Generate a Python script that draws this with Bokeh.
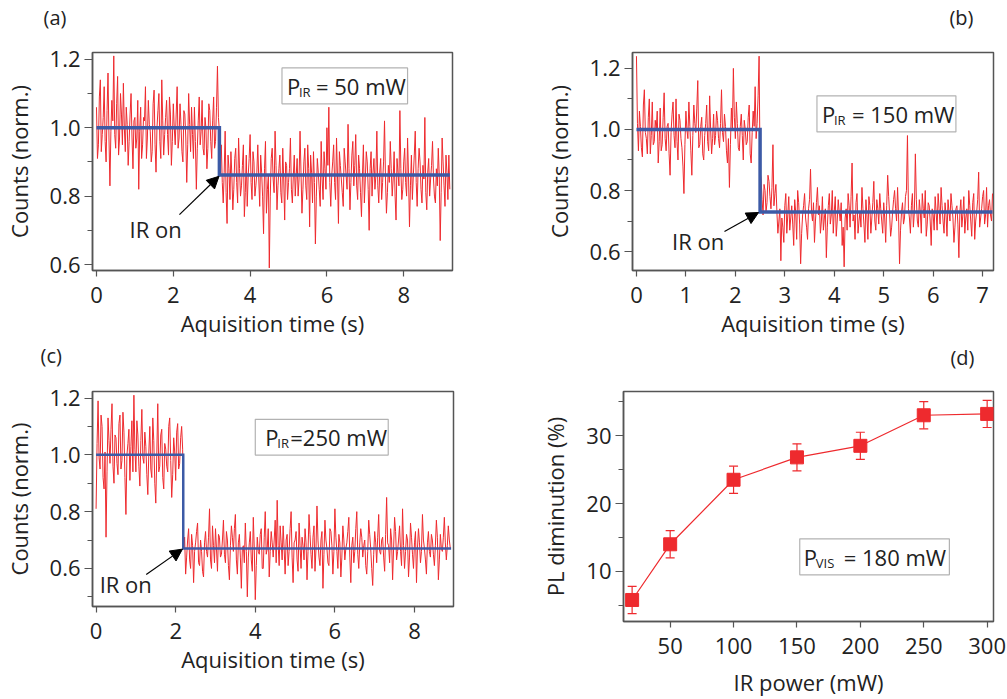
import numpy as np
from bokeh.plotting import figure
from bokeh.layouts import row, column
from bokeh.models import (Range1d, SingleIntervalTicker, BoxAnnotation, Label, Arrow,
                          NormalHead, Whisker, TeeHead, ColumnDataSource,
                          PrintfTickFormatter)
from bokeh.embed import file_html
from bokeh.resources import INLINE

FONT = "Open Sans"
FS = "22px"
RED = "#ee2a2e"
BLUE = "#3c5aa6"
TXT = "#222222"
FRAME = "#555555"

# ---------------- data ----------------
# (a) P_IR = 50 mW
a_dt = 0.025
a_counts = [
    1.06, 0.91, 0.95, 1.09, 1.14, 0.93, 0.98, 1.03, 1.12, 0.96, 0.90, 1.05, 1.16, 0.97, 0.83, 0.99, 1.08, 1.02, 1.21, 0.98,
    0.94, 1.07, 1.15, 0.92, 0.97, 1.10, 1.04, 0.95, 1.13, 1.00, 0.93, 1.06, 1.01, 0.89, 0.96, 1.04, 1.10, 0.97, 0.88, 1.02,
    1.03, 0.94, 0.97, 1.08, 0.82, 0.99, 1.06, 0.91, 0.95, 1.03, 1.02, 1.12, 0.91, 0.97, 1.08, 1.01, 0.99, 0.90, 0.93, 1.07,
    1.11, 0.95, 0.87, 1.00, 1.05, 1.10, 0.96, 0.91, 1.14, 1.02, 0.92, 0.98, 1.03, 1.08, 0.98, 0.92, 1.09, 1.04, 0.89, 0.96,
    1.07, 1.00, 0.95, 1.04, 1.12, 0.94, 0.97, 1.07, 1.01, 0.93, 0.90, 1.05, 1.04, 0.97, 0.84, 0.95, 1.10, 1.01, 0.93, 1.06,
    0.98, 0.91, 1.06, 0.96, 0.82, 0.94, 1.02, 1.09, 0.95, 0.99, 1.08, 0.94, 0.92, 1.03, 1.00, 0.88, 0.94, 1.07, 1.05, 0.96,
    0.91, 1.02, 1.09, 0.94, 0.96, 1.06, 1.18, 1.03, 0.99,
    0.90, 0.95, 0.84, 0.78, 0.87, 0.99, 0.81, 0.72, 0.92, 0.88, 0.79, 0.93, 0.86, 0.76, 0.82, 0.91, 0.94, 0.84, 0.78, 0.97,
    0.88, 0.80, 0.83, 0.89, 0.95, 0.74, 0.81, 0.92, 0.77, 0.86, 0.91, 0.98, 0.84, 0.79, 0.93, 0.90, 0.80, 0.83, 0.87, 0.95,
    0.85, 0.77, 0.92, 0.87, 0.80, 0.69, 0.88, 0.96, 0.75, 0.82, 0.86, 0.59, 0.80, 0.91, 0.94, 0.85, 0.81, 0.99, 0.89, 0.76,
    0.83, 0.88, 0.92, 0.81, 0.78, 0.94, 0.85, 0.73, 0.90, 0.89, 0.79, 0.84, 0.88, 0.97, 0.82, 0.78, 0.86, 0.92, 0.80, 0.86,
    0.91, 0.80, 0.85, 0.99, 0.87, 0.75, 0.82, 0.90, 0.94, 0.83, 0.79, 0.95, 0.88, 0.71, 0.92, 0.87, 0.78, 0.93, 0.84, 0.66,
    0.80, 0.91, 0.87, 0.82, 0.77, 0.96, 0.85, 0.79, 0.93, 0.88, 0.82, 1.00, 0.89, 1.06, 0.84, 0.77, 0.86, 0.90, 0.95, 0.84,
    0.79, 0.97, 0.86, 0.72, 0.93, 0.89, 0.85, 0.81, 0.77, 0.94, 0.90, 0.86, 0.82, 1.01, 0.88, 0.76, 0.84, 0.92, 0.96, 0.83,
    0.89, 0.98, 0.83, 0.79, 0.92, 0.88, 0.81, 0.74, 0.86, 0.95, 0.78, 0.85, 0.93, 0.90, 0.82, 0.70, 0.88, 0.93, 0.80, 0.87,
    0.91, 0.82, 0.86, 0.99, 0.83, 0.78, 0.87, 0.91, 0.79, 0.84, 0.90, 1.02, 0.85, 0.75, 0.81, 0.89, 0.84, 0.96, 0.88, 0.80,
    0.85, 0.93, 0.80, 0.73, 0.91, 0.87, 0.83, 1.05, 0.88, 0.79, 0.82, 0.90, 0.94, 0.84, 0.80, 0.97, 0.86, 0.71, 0.83, 0.92,
    0.79, 0.86, 0.92, 0.99, 0.84, 0.77, 0.88, 0.94, 0.90, 0.82, 0.78, 0.89, 0.85, 1.03, 0.81, 0.76, 0.87, 0.91, 0.80, 0.85,
    0.89, 0.96, 0.85, 0.80, 0.78, 0.88, 0.83, 0.94, 0.86, 0.67, 0.81, 0.97, 0.90, 0.83, 0.77, 0.92, 0.87, 0.79, 0.92, 0.82,
]
a_step_time = 3.2
a_levels = [1.0, 0.862]
a_end = 9.2

# (b) P_IR = 150 mW
b_dt = 0.02
b_counts = [
    1.24, 1.02, 0.93, 1.06, 1.01, 0.94, 0.91, 1.08, 1.13, 0.99, 0.97, 0.92, 1.04, 1.10, 0.92, 0.98, 1.09, 0.95, 0.96, 1.03,
    1.00, 1.06, 0.89, 0.96, 1.07, 0.93, 0.95, 1.04, 1.12, 0.97, 0.93, 1.01, 1.02, 0.92, 0.85, 0.99, 1.05, 1.09, 0.98, 0.94,
    1.10, 0.96, 0.90, 1.05, 1.03, 0.97, 0.94, 0.88, 0.79, 0.95, 1.06, 1.00, 0.97, 1.09, 1.01, 0.93, 0.85, 0.98, 1.08, 1.02,
    0.99, 1.07, 1.16, 0.94, 0.95, 1.01, 1.04, 0.92, 0.90, 0.98, 1.02, 1.08, 0.96, 0.93, 1.11, 1.00, 0.92, 0.97, 1.05, 0.95,
    0.98, 1.06, 1.03, 0.97, 0.94, 1.02, 1.13, 0.99, 0.96, 1.05, 1.01, 0.93, 0.89, 0.97, 0.81, 0.95, 1.07, 1.00, 1.20, 1.04,
    0.97, 1.09, 1.02, 0.94, 0.93, 1.01, 1.05, 0.98, 0.90, 1.03, 1.00, 0.95, 0.96, 1.04, 1.08, 0.92, 0.89, 0.99, 1.06, 1.01,
    1.14, 0.97, 1.02, 1.11, 1.24,
    0.86, 0.84, 0.77, 0.72, 0.82, 0.80, 0.73, 0.76, 0.85, 0.83, 0.78, 0.74, 0.81, 0.95, 0.75, 0.79, 0.82, 0.73, 0.66, 0.70,
    0.74, 0.57, 0.71, 0.68, 0.63, 0.75, 0.79, 0.66, 0.72, 0.78, 0.67, 0.71, 0.75, 0.69, 0.62, 0.77, 0.73, 0.64, 0.80, 0.76,
    0.69, 0.56, 0.66, 0.72, 0.75, 0.79, 0.71, 0.68, 0.64, 0.74, 0.77, 0.87, 0.73, 0.70, 0.76, 0.63, 0.70, 0.76, 0.81, 0.72,
    0.75, 0.66, 0.70, 0.78, 0.67, 0.71, 0.74, 0.58, 0.68, 0.75, 0.79, 0.69, 0.72, 0.80, 0.66, 0.73, 0.78, 0.65, 0.70, 0.77,
    0.73, 0.70, 0.76, 0.62, 0.68, 0.55, 0.71, 0.74, 0.67, 0.79, 0.75, 0.68, 0.78, 0.89, 0.70, 0.72, 0.64, 0.76, 0.79, 0.66,
    0.70, 0.73, 0.68, 0.81, 0.74, 0.69, 0.63, 0.77, 0.72, 0.64, 0.78, 0.75, 0.66, 0.71, 0.76, 0.83, 0.70, 0.67, 0.77, 0.74,
    0.69, 0.79, 0.74, 0.70, 0.66, 0.76, 0.71, 0.63, 0.75, 0.85, 0.78, 0.72, 0.65, 0.68, 0.73, 0.77, 0.80, 0.74, 0.70, 0.81,
    0.72, 0.56, 0.67, 0.73, 0.76, 0.69, 0.71, 0.78, 0.80, 0.98, 0.74, 0.71, 0.66, 0.75, 0.79, 0.68, 0.73, 0.92, 0.77, 0.70,
    0.68, 0.77, 0.73, 0.66, 0.79, 0.74, 0.71, 0.80, 0.65, 0.69, 0.76, 0.75, 0.70, 0.62, 0.74, 0.72, 0.67, 0.78, 0.73, 0.67,
    0.79, 0.74, 0.69, 0.81, 0.75, 0.70, 0.66, 0.76, 0.72, 0.65, 0.77, 0.73, 0.70, 0.79, 0.75, 0.71, 0.63, 0.68, 0.74, 0.75,
    0.69, 0.58, 0.73, 0.77, 0.68, 0.72, 0.78, 0.66, 0.71, 0.74, 0.67, 0.80, 0.75, 0.70, 0.65, 0.76, 0.79, 0.64, 0.70, 0.73,
    0.77, 0.86, 0.68, 0.71, 0.74, 0.78, 0.80, 0.69, 0.72, 0.81, 0.68, 0.75, 0.77, 0.72, 0.70, 0.79,
]
b_step_time = 2.5
b_levels = [1.0, 0.73]
b_end = 7.2

# (c) P_IR = 250 mW
c_dt = 0.025
c_counts = [
    0.81, 1.04, 1.19, 0.99, 0.95, 1.14, 1.10, 0.92, 0.88, 1.01, 0.71, 0.94, 1.13, 1.05, 0.97, 1.09, 1.18, 0.96, 0.90, 1.07,
    1.06, 0.97, 0.93, 1.11, 1.14, 0.95, 0.98, 1.15, 1.08, 0.92, 0.79, 1.00, 1.04, 1.09, 0.91, 1.03, 1.12, 0.94, 1.21, 1.02,
    0.94, 1.12, 1.07, 0.96, 0.89, 1.05, 1.16, 0.99, 0.97, 1.08, 1.03, 0.93, 0.86, 1.01, 1.10, 0.95, 0.92, 1.13, 1.05, 0.90,
    0.83, 1.00, 1.18, 0.94, 0.96, 1.07, 1.09, 0.92, 0.88, 1.04, 1.02, 0.96, 0.94, 1.10, 1.13, 0.98, 0.85, 0.93, 1.06, 1.01,
    0.91, 1.08, 1.11, 0.95, 0.97, 1.06, 1.10, 1.02,
    0.67, 0.71, 0.58, 0.64, 0.70, 0.74, 0.63, 0.60, 0.72, 0.68, 0.55, 0.66, 0.69, 0.73, 0.76, 0.62, 0.61, 0.70, 0.66, 0.59,
    0.57, 0.69, 0.73, 0.66, 0.64, 0.71, 0.81, 0.63, 0.60, 0.75, 0.68, 0.62, 0.74, 0.67, 0.59, 0.72, 0.71, 0.64, 0.65, 0.70,
    0.77, 0.65, 0.62, 0.73, 0.70, 0.61, 0.56, 0.68, 0.75, 0.71, 0.66, 0.74, 0.79, 0.63, 0.58, 0.69, 0.72, 0.64, 0.53, 0.67,
    0.68, 0.62, 0.76, 0.66, 0.50, 0.64, 0.69, 0.73, 0.63, 0.59, 0.78, 0.67, 0.49, 0.61, 0.71, 0.66, 0.65, 0.72, 0.74, 0.60,
    0.60, 0.71, 0.80, 0.65, 0.67, 0.74, 0.57, 0.66, 0.73, 0.69, 0.64, 0.70, 0.77, 0.62, 0.84, 0.68, 0.61, 0.75, 0.69, 0.63,
    0.75, 0.67, 0.58, 0.70, 0.72, 0.61, 0.66, 0.74, 0.80, 0.64, 0.55, 0.69, 0.70, 0.73, 0.63, 0.59, 0.76, 0.68, 0.60, 0.71,
    0.68, 0.63, 0.74, 0.69, 0.56, 0.66, 0.79, 0.72, 0.65, 0.60, 0.71, 0.75, 0.59, 0.67, 0.82, 0.70, 0.64, 0.61, 0.70, 0.73,
    0.53, 0.65, 0.77, 0.70, 0.67, 0.62, 0.61, 0.74, 0.73, 0.68, 0.58, 0.66, 0.81, 0.71, 0.66, 0.60, 0.72, 0.69, 0.57, 0.64,
    0.75, 0.70, 0.63, 0.67, 0.69, 0.73, 0.78, 0.64, 0.55, 0.68, 0.71, 0.62, 0.66, 0.74, 0.80, 0.65, 0.60, 0.69, 0.74, 0.71,
    0.64, 0.68, 0.70, 0.61, 0.58, 0.66, 0.77, 0.72, 0.67, 0.60, 0.54, 0.65, 0.73, 0.69, 0.62, 0.71, 0.79, 0.66, 0.65, 0.70,
    0.71, 0.64, 0.59, 0.72, 0.85, 0.69, 0.68, 0.62, 0.74, 0.70, 0.56, 0.67, 0.78, 0.73, 0.63, 0.66, 0.70, 0.75, 0.66, 0.61,
    0.81, 0.68, 0.60, 0.66, 0.72, 0.70, 0.57, 0.64, 0.76, 0.71, 0.65, 0.60, 0.69, 0.73, 0.55, 0.67, 0.74, 0.69, 0.62, 0.66,
    0.79, 0.70, 0.67, 0.63, 0.58, 0.69, 0.73, 0.66, 0.64, 0.72, 0.70, 0.65, 0.61, 0.68, 0.77, 0.71, 0.56, 0.63, 0.72, 0.67,
    0.66, 0.71, 0.78, 0.69, 0.63, 0.68, 0.75, 0.70, 0.67,
]
c_step_time = 2.19
c_levels = [1.0, 0.67]
c_end = 8.92

# (d) PL diminution vs IR power
d_power = [20, 50, 100, 150, 200, 250, 300]
d_dimin = [5.8, 14.0, 23.5, 26.8, 28.5, 33.0, 33.2]
d_err = [2.0, 2.0, 2.0, 2.0, 2.0, 2.0, 2.0]


# ---------------- helpers ----------------
def style(p, ylabel, xlabel):
    p.xgrid.visible = False
    p.ygrid.visible = False
    p.outline_line_color = FRAME
    p.outline_line_width = 1.5
    p.background_fill_color = "white"
    p.border_fill_color = "white"
    for ax in (p.xaxis[0], p.yaxis[0]):
        ax.axis_line_color = FRAME
        ax.axis_line_width = 1.5
        ax.major_tick_line_color = FRAME
        ax.minor_tick_line_color = FRAME
        ax.major_tick_line_width = 1.2
        ax.minor_tick_line_width = 1.2
        ax.major_tick_in = 0
        ax.minor_tick_in = 0
        ax.major_label_text_font = FONT
        ax.major_label_text_font_size = FS
        ax.major_label_text_color = TXT
        ax.axis_label_text_font = FONT
        ax.axis_label_text_font_size = FS
        ax.axis_label_text_font_style = "normal"
        ax.axis_label_text_color = TXT
    p.xaxis.axis_label = xlabel
    p.yaxis.axis_label = ylabel
    p.xaxis.major_tick_out = 6
    p.xaxis.minor_tick_line_color = None
    p.xaxis.major_label_standoff = 10
    p.xaxis.axis_label_standoff = 2
    p.yaxis.major_tick_out = 8
    p.yaxis.minor_tick_out = 5
    p.yaxis.major_label_standoff = 4
    p.yaxis.axis_label_standoff = 13


def letter_fig(text, w, h, x, y, align):
    f = figure(width=w, height=h, output_backend="svg", toolbar_location=None,
               x_range=Range1d(0, w), y_range=Range1d(0, h),
               x_axis_location=None, y_axis_location=None, min_border=0)
    f.xgrid.visible = False
    f.ygrid.visible = False
    f.outline_line_color = None
    f.add_layout(Label(x=x, y=y, text=text, text_font=FONT, text_font_size="20px",
                       text_align=align, text_baseline="middle", text_color=TXT))
    return f


def add_box(p, left, right, bottom, top, sub, rest, x_p, x_sub, x_rest):
    p.add_layout(BoxAnnotation(left=left, right=right, bottom=bottom, top=top,
                               fill_color="white", fill_alpha=1.0,
                               line_color="black", line_width=1.2, level="overlay"))
    mid = (bottom + top) / 2
    p.add_layout(Label(x=left, y=mid, x_offset=x_p, text="P", text_font=FONT,
                       text_font_size=FS, text_baseline="middle",
                       text_color=TXT, level="overlay"))
    p.add_layout(Label(x=left, y=mid, x_offset=x_sub, y_offset=-6, text=sub,
                       text_font=FONT, text_font_size="13px",
                       text_baseline="middle", text_color=TXT, level="overlay"))
    p.add_layout(Label(x=left, y=mid, x_offset=x_rest, text=rest, text_font=FONT,
                       text_font_size=FS, text_baseline="middle",
                       text_color=TXT, level="overlay"))


def trace_fig(counts, dt, step_t, levels, t_end, xr, yr,
              xint, w, h, borders, blue_w, box, arrow, irpos):
    p = figure(width=w, height=h, output_backend="svg", toolbar_location=None,
               x_range=Range1d(*xr), y_range=Range1d(*yr),
               min_border_left=borders[0], min_border_right=borders[1],
               min_border_top=borders[2], min_border_bottom=borders[3])
    style(p, "Counts (norm.)", "Aquisition time (s)")
    p.xaxis.ticker = SingleIntervalTicker(interval=xint, num_minor_ticks=0)
    p.yaxis.ticker = SingleIntervalTicker(interval=0.2, num_minor_ticks=2)
    p.yaxis.formatter = PrintfTickFormatter(format="%.1f")
    t = np.arange(len(counts)) * dt
    p.line(t, counts, line_color=RED, line_width=1.0)
    p.line([0, step_t, step_t, t_end], [levels[0], levels[0], levels[1], levels[1]],
           line_color=BLUE, line_width=blue_w, line_join="miter")
    add_box(p, *box)
    p.add_layout(Arrow(x_start=arrow[0], y_start=arrow[1], x_end=arrow[2], y_end=arrow[3],
                       line_color="black", line_width=1.2,
                       end=NormalHead(size=12, fill_color="black", line_color="black")))
    p.add_layout(Label(x=irpos[0], y=irpos[1], text="IR on", text_font=FONT,
                       text_font_size=FS, text_baseline="middle", text_color=TXT))
    return p


la = letter_fig("(a)", 500, 30, 43, 13, "left")
lb = letter_fig("(b)", 507, 30, 473, 13, "right")
lc = letter_fig("(c)", 500, 30, 40, 15, "left")
ld = letter_fig("(d)", 507, 30, 474, 13, "right")

pa = trace_fig(a_counts, a_dt, a_step_time, a_levels, a_end,
               (-0.104, 9.27), (0.5825, 1.220), 2, 500, 310, (91, 48, 22, 70), 3.5,
               (4.83, 8.10, 1.070, 1.175, "IR", "= 50 mW", 5, 17, 34),
               (2.16, 0.746, 3.19, 0.858), (0.86, 0.705))

pb = trace_fig(b_counts, b_dt, b_step_time, b_levels, b_end,
               (-0.08, 7.22), (0.538, 1.252), 1, 507, 310, (132, 14, 22, 70), 3.5,
               (3.65, 6.46, 0.992, 1.110, "IR", "= 150 mW", 5, 17, 35),
               (1.78, 0.666, 2.47, 0.728), (0.72, 0.636))

pc = trace_fig(c_counts, c_dt, c_step_time, c_levels, c_end,
               (-0.09, 8.98), (0.466, 1.223), 2, 500, 314, (92, 47, 21, 76), 2.5,
               (4.0, 7.34, 0.999, 1.125, "IR", "=250 mW", 10, 22, 35),
               (1.26, 0.579, 2.17, 0.668), (0.09, 0.545))

# (d)
pd_ = figure(width=507, height=329, output_backend="svg", toolbar_location=None,
             x_range=Range1d(13.2, 305), y_range=Range1d(2.63, 36.5),
             min_border_left=123, min_border_right=14, min_border_top=21,
             min_border_bottom=76)
style(pd_, "PL diminution (%)", "IR power (mW)")
pd_.xaxis.axis_label_standoff = 10
pd_.xaxis.ticker = SingleIntervalTicker(interval=50, num_minor_ticks=0)
pd_.yaxis.ticker = SingleIntervalTicker(interval=10, num_minor_ticks=2)
src = ColumnDataSource(dict(x=d_power, y=d_dimin,
                            lo=[v - e for v, e in zip(d_dimin, d_err)],
                            hi=[v + e for v, e in zip(d_dimin, d_err)]))
pd_.add_layout(Whisker(source=src, base="x", lower="lo", upper="hi", dimension="height",
                       line_color=RED, line_width=1.2,
                       upper_head=TeeHead(size=9, line_color=RED, line_width=1.2),
                       lower_head=TeeHead(size=9, line_color=RED, line_width=1.2)))
pd_.line("x", "y", source=src, line_color=RED, line_width=1.2)
pd_.scatter("x", "y", source=src, marker="square", size=13, fill_color=RED,
            line_color=RED)
add_box(pd_, 152.2, 270.2, 9.5, 14.8, "VIS", "= 180 mW", 4, 16, 44)

layout = column(row(la, lb), row(pa, pb), row(lc, ld), row(pc, pd_))
open("out.html", "w").write(file_html(layout, INLINE))
